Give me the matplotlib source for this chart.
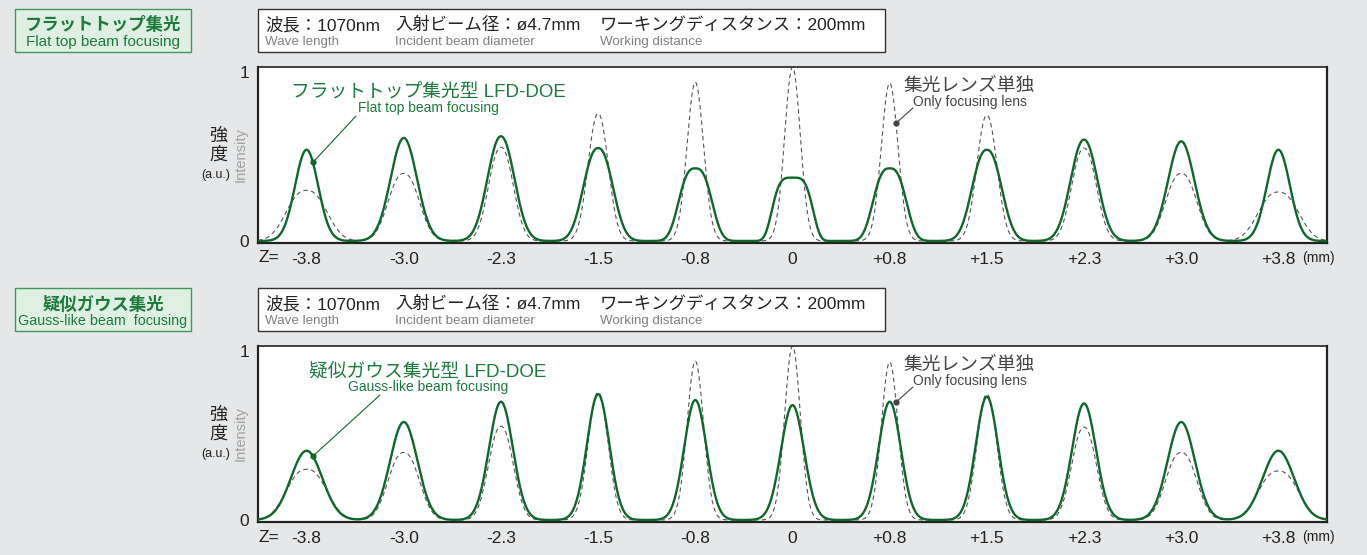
import numpy as np
import matplotlib
matplotlib.use('Agg')
import matplotlib.pyplot as plt
from matplotlib.patches import Rectangle

# 图像尺寸（像素）
W, H = 1367, 555

# Z 位置（mm）
z_labels = ['-3.8', '-3.0', '-2.3', '-1.5', '-0.8', '0', '+0.8', '+1.5', '+2.3', '+3.0', '+3.8']

# 集光レンズ単独（虚线）: 峰值与半高宽
lens_peak = [0.30, 0.40, 0.555, 0.755, 0.94, 1.03, 0.935, 0.745, 0.55, 0.40, 0.29]
lens_fwhm = [0.46, 0.36, 0.29, 0.24, 0.20, 0.19, 0.20, 0.24, 0.29, 0.36, 0.46]
lens_order = [2.4, 2.3, 2.2, 2.1, 2.0, 2.0, 2.0, 2.1, 2.2, 2.3, 2.4]

# フラットトップ集光型（实线）
flat_peak = [0.54, 0.61, 0.62, 0.55, 0.43, 0.375, 0.43, 0.54, 0.60, 0.59, 0.54]
flat_fwhm = [0.28, 0.32, 0.32, 0.34, 0.36, 0.42, 0.36, 0.34, 0.32, 0.32, 0.28]
flat_order = [2.0, 2.0, 2.1, 2.3, 2.8, 4.0, 2.8, 2.3, 2.1, 2.0, 2.0]

# 疑似ガウス集光型（实线）
gauss_peak = [0.41, 0.58, 0.70, 0.745, 0.71, 0.68, 0.70, 0.73, 0.69, 0.58, 0.41]
gauss_fwhm = [0.38, 0.33, 0.29, 0.27, 0.27, 0.28, 0.27, 0.27, 0.29, 0.33, 0.38]
gauss_order = [2.0] * 11

header_main = ['波長：1070nm', '入射ビーム径：ø4.7mm', 'ワーキングディスタンス：200mm']
header_sub = ['Wave length', 'Incident beam diameter', 'Working distance']
header_x = [265, 395, 600]

BG = '#e6e7e8'
GREEN_LINE = '#10672c'
GREEN_TEXT = '#1d7a3d'
JP = ['Liberation Sans', 'Noto Sans CJK JP']

plt.rcParams['font.family'] = JP


def fx(x):
    return x / W


def fy(y):
    return 1 - y / H


def profile(xs, peaks, fwhm, order):
    y = np.zeros_like(xs)
    for i, (h, w, p) in enumerate(zip(peaks, fwhm, order)):
        y += h * np.exp(-np.log(2) * (np.abs(xs - i) / (w / 2)) ** p)
    return y


fig = plt.figure(figsize=(W / 100, H / 100), dpi=100, facecolor=BG)


def draw_panel(dy, title_jp, title_en, en_size, doe_jp, doe_en, line_x, peaks, fwhm, order):
    # 左上绿色标签框
    fig.add_artist(Rectangle((fx(15), fy(52 + dy)), 176 / W, 43 / H, transform=fig.transFigure,
                             facecolor='#dff0e2', edgecolor='#3d9a5a', lw=1.0))
    fig.text(fx(103), fy(25 + dy), title_jp, ha='center', va='center', fontsize=12.5,
             fontweight='bold', color=GREEN_TEXT, family=JP)
    fig.text(fx(103), fy(42 + dy), title_en, ha='center', va='center', fontsize=en_size,
             color=GREEN_TEXT, family=JP)

    # 条件框
    fig.add_artist(Rectangle((fx(258), fy(52 + dy)), 627 / W, 43 / H, transform=fig.transFigure,
                             facecolor='white', edgecolor='#333333', lw=1.0))
    for m, s, x in zip(header_main, header_sub, header_x):
        fig.text(fx(x), fy(25 + dy), m, ha='left', va='center', fontsize=12.5, color='#222222', family=JP)
        fig.text(fx(x), fy(42 + dy), s, ha='left', va='center', fontsize=9.6, color='#808080', family=JP)

    ax = fig.add_axes([fx(258), fy(243 + dy), (1327 - 258) / W, 176 / H])
    ax.set_facecolor('white')
    xs = np.linspace(-0.5, 10.5, 3000)
    solid = profile(xs, peaks, fwhm, order)
    dashed = profile(xs, lens_peak, lens_fwhm, lens_order)
    ax.plot(xs, dashed, color='#555555', lw=0.8, dashes=(4, 3), zorder=2)
    ax.plot(xs, solid, color=GREEN_LINE, lw=1.7, zorder=3)
    ax.set_xlim(-0.5, 10.5)
    ax.set_ylim(-0.012, 1.03)
    for sp in ax.spines.values():
        sp.set_linewidth(1.6)
        sp.set_color('#222222')
    ax.spines['top'].set_linewidth(1.2)
    ax.set_xticks(range(len(z_labels)))
    ax.set_xticklabels(z_labels, fontsize=12.5, color='#222222')
    ax.set_yticks([0, 1])
    ax.set_yticklabels(['0', '1'], fontsize=12.5, color='#222222')
    ax.tick_params(length=0, pad=6.5)

    fig.text(fx(269), fy(258 + dy), 'Z=', ha='center', va='center', fontsize=12.5, color='#222222')
    fig.text(fx(1318), fy(258 + dy), '(mm)', ha='center', va='center', fontsize=10, color='#222222')

    # 纵轴标签
    fig.text(fx(218), fy(136 + dy), '強', ha='center', va='center', fontsize=13, color='#222222', family=JP)
    fig.text(fx(218), fy(155 + dy), '度', ha='center', va='center', fontsize=13, color='#222222', family=JP)
    fig.text(fx(216), fy(175 + dy), '(a.u.)', ha='center', va='center', fontsize=9, color='#222222')
    fig.text(fx(241), fy(155 + dy), 'Intensity', ha='center', va='center', fontsize=10.5,
             color='#a0a0a0', rotation=90)

    # DOE 注释
    fig.text(fx(428), fy(93 + dy), doe_jp, ha='center', va='center', fontsize=13.5,
             color=GREEN_TEXT, family=JP)
    fig.text(fx(428), fy(108 + dy), doe_en, ha='center', va='center', fontsize=10,
             color=GREEN_TEXT, family=JP)
    x0 = 0.065
    y0 = np.interp(x0, xs, solid)
    ax.plot([x0], [y0], 'o', color=GREEN_LINE, ms=3.5, zorder=4)
    ax.annotate('', xy=(x0, y0), xycoords='data', xytext=(fx(line_x), fy(116 + dy)),
                textcoords='figure fraction',
                arrowprops=dict(arrowstyle='-', color=GREEN_LINE, lw=0.8, shrinkA=0, shrinkB=0))

    # 单独透镜注释
    fig.text(fx(969), fy(86 + dy), '集光レンズ単独', ha='center', va='center', fontsize=13.5,
             color='#444444', family=JP)
    fig.text(fx(970), fy(102 + dy), 'Only focusing lens', ha='center', va='center', fontsize=10,
             color='#444444', family=JP)
    x1 = 6.065
    y1 = np.interp(x1, xs, dashed)
    ax.plot([x1], [y1], 'o', color='#444444', ms=3.5, zorder=4)
    ax.annotate('', xy=(x1, y1), xycoords='data', xytext=(fx(913), fy(108 + dy)),
                textcoords='figure fraction',
                arrowprops=dict(arrowstyle='-', color='#444444', lw=0.8, shrinkA=0, shrinkB=0))


draw_panel(0, 'フラットトップ集光', 'Flat top beam focusing', 11,
           'フラットトップ集光型 LFD-DOE', 'Flat top beam focusing', 356,
           flat_peak, flat_fwhm, flat_order)
draw_panel(279, '疑似ガウス集光', 'Gauss-like beam  focusing', 10.3,
           '疑似ガウス集光型 LFD-DOE', 'Gauss-like beam focusing', 380,
           gauss_peak, gauss_fwhm, gauss_order)

fig.savefig('out.png', dpi=100, facecolor=BG)
